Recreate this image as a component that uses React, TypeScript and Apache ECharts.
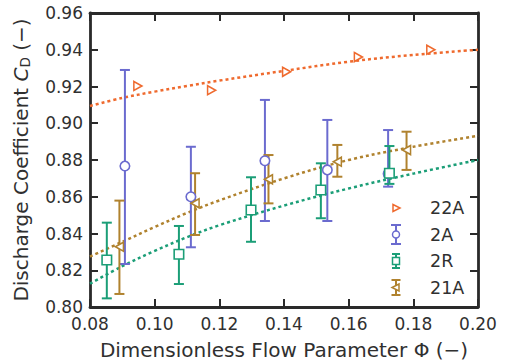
import React, { useEffect, useRef } from "react";
import * as echarts from "echarts";

// ---- data ----
const fitPhi = [0.08, 0.09, 0.10, 0.11, 0.12, 0.14, 0.16, 0.18, 0.20];
const fit22A = [0.9094, 0.9138, 0.9172, 0.9203, 0.9232, 0.9285, 0.9335, 0.9372, 0.9400];
const fit21A = [0.8274, 0.8355, 0.8435, 0.8512, 0.8580, 0.8700, 0.8800, 0.8872, 0.8932];
const fit2R = [0.8127, 0.8222, 0.8305, 0.8380, 0.8445, 0.8552, 0.8645, 0.8726, 0.8800];

const phi22A = [0.0948, 0.1176, 0.1408, 0.1630, 0.1854];
const cd22A = [0.9203, 0.9180, 0.9280, 0.9360, 0.9400];

const phi2A = [0.0908, 0.1112, 0.1341, 0.1534, 0.1722];
const cd2A = [0.8767, 0.8600, 0.8796, 0.8746, 0.8725];
const lo2A = [0.8234, 0.8325, 0.8468, 0.8468, 0.8655];
const hi2A = [0.9290, 0.8872, 0.9127, 0.9018, 0.8963];

const phi2R = [0.0852, 0.1075, 0.1298, 0.1514, 0.1726];
const cd2R = [0.8256, 0.8287, 0.8528, 0.8637, 0.8728];
const lo2R = [0.8047, 0.8125, 0.8355, 0.8483, 0.8670];
const hi2R = [0.8459, 0.8441, 0.8706, 0.8782, 0.8876];

const phi21A = [0.0891, 0.1125, 0.1352, 0.1565, 0.1779];
const cd21A = [0.8328, 0.8564, 0.8695, 0.8791, 0.8854];
const lo21A = [0.8071, 0.8392, 0.8564, 0.8709, 0.8746];
const hi21A = [0.8579, 0.8728, 0.8827, 0.8882, 0.8954];

const legendNames = ["22A", "2A", "2R", "21A"];

// ---- styling ----
const C_ORANGE = "#ef6a2e";
const C_BLUE = "#6b6bcf";
const C_GREEN = "#1b9e77";
const C_BROWN = "#b0822e";
const AX = "#2a2a2a";
const TXT = "#303030";
const FONT = "DejaVu Sans";

const TRI_RIGHT = "path://M0,0 L10,5 L0,10 Z";
const TRI_LEFT = "path://M10,0 L0,5 L10,10 Z";

function iconSvg(kind: string, color: string, barH: number, capW: number) {
  const W = 14, H = 22, cx = 7, cy = 11;
  let bar = "";
  if (barH > 0) {
    const y1 = cy - barH / 2, y2 = cy + barH / 2;
    bar =
      `<line x1="${cx}" y1="${y1}" x2="${cx}" y2="${y2}" stroke="${color}" stroke-width="2"/>` +
      `<line x1="${cx - capW / 2}" y1="${y1}" x2="${cx + capW / 2}" y2="${y1}" stroke="${color}" stroke-width="2"/>` +
      `<line x1="${cx - capW / 2}" y1="${y2}" x2="${cx + capW / 2}" y2="${y2}" stroke="${color}" stroke-width="2"/>`;
  }
  let mk = "";
  const st = `fill="white" stroke="${color}" stroke-width="1.5"`;
  if (kind === "circle") mk = `<circle cx="${cx}" cy="${cy}" r="3.5" ${st}/>`;
  if (kind === "square") mk = `<rect x="${cx - 3.5}" y="${cy - 3.5}" width="7" height="7" ${st}/>`;
  if (kind === "right") mk = `<polygon points="${cx - 3},${cy - 3.5} ${cx + 4},${cy} ${cx - 3},${cy + 3.5}" ${st}/>`;
  if (kind === "left") mk = `<polygon points="${cx + 3},${cy - 3.5} ${cx - 4},${cy} ${cx + 3},${cy + 3.5}" ${st}/>`;
  const svg = `<svg xmlns="http://www.w3.org/2000/svg" width="${W}" height="${H}" viewBox="0 0 ${W} ${H}">${bar}${mk}</svg>`;
  return "image://data:image/svg+xml;charset=utf-8," + encodeURIComponent(svg);
}

function zip2(a: number[], b: number[]) {
  return a.map((v, i) => [v, b[i]]);
}
function zip3(a: number[], b: number[], c: number[]) {
  return a.map((v, i) => [v, b[i], c[i]]);
}

function errSeries(name: string, color: string, data: number[][]) {
  return {
    type: "custom",
    name,
    data,
    encode: { x: 0, y: [1, 2] },
    z: 3,
    renderItem: (_p: any, api: any) => {
      const x = api.value(0);
      const a = api.coord([x, api.value(1)]);
      const b = api.coord([x, api.value(2)]);
      const w = 5;
      const style = { stroke: color, lineWidth: 2 };
      return {
        type: "group",
        children: [
          { type: "line", shape: { x1: a[0], y1: a[1], x2: b[0], y2: b[1] }, style },
          { type: "line", shape: { x1: a[0] - w, y1: a[1], x2: a[0] + w, y2: a[1] }, style },
          { type: "line", shape: { x1: b[0] - w, y1: b[1], x2: b[0] + w, y2: b[1] }, style },
        ],
      };
    },
  };
}

function markerSeries(name: string, color: string, symbol: string, size: number | number[], data: number[][]) {
  return {
    type: "scatter",
    name,
    data,
    symbol,
    symbolSize: size,
    z: 4,
    itemStyle: { color: "#ffffff", borderColor: color, borderWidth: 1.6, opacity: 1 },
  };
}

function fitSeries(name: string, color: string, ys: number[]) {
  return {
    type: "line",
    name,
    data: zip2(fitPhi, ys),
    smooth: 0.35,
    showSymbol: false,
    symbol: "none",
    z: 2,
    lineStyle: { color, width: 2.5, type: [3, 3], cap: "butt" },
  };
}

const axisCommon = {
  axisLine: { show: true, lineStyle: { color: AX, width: 2.8 } },
  axisTick: { show: true, inside: true, length: 8, lineStyle: { color: AX, width: 2 } },
  splitLine: { show: false },
};

export default function App() {
  const ref = useRef<HTMLDivElement>(null);
  useEffect(() => {
    if (!ref.current) return;
    const chart = echarts.init(ref.current, undefined, { renderer: "svg" });
    const option: any = {
      animation: false,
      backgroundColor: "#ffffff",
      textStyle: { fontFamily: FONT },
      grid: { left: 90, right: 29, top: 13, bottom: 55, containLabel: false, outerBoundsMode: "none" },
      xAxis: [
        {
          type: "value",
          position: "bottom",
          min: 0.08,
          max: 0.2,
          interval: 0.02,
          ...axisCommon,
          axisLabel: {
            show: true,
            margin: 8,
            fontSize: 17,
            fontFamily: FONT,
            color: TXT,
            formatter: (v: number) => v.toFixed(2),
          },
          name: "Dimensionless Flow Parameter Φ (−)",
          nameLocation: "middle",
          nameGap: 32,
          nameTextStyle: { fontSize: 20, fontFamily: FONT, color: TXT, lineHeight: 21 },
        },
        {
          type: "value",
          position: "top",
          min: 0.08,
          max: 0.2,
          interval: 0.02,
          ...axisCommon,
          axisLabel: { show: false },
        },
      ],
      yAxis: [
        {
          type: "value",
          position: "left",
          min: 0.8,
          max: 0.96,
          interval: 0.02,
          ...axisCommon,
          axisLabel: {
            show: true,
            margin: 7,
            fontSize: 17,
            fontFamily: FONT,
            color: TXT,
            formatter: (v: number) => v.toFixed(2),
          },
          name: "Discharge Coefficient {i|C}{s|D} (−)",
          nameLocation: "middle",
          nameGap: 52,
          nameTextStyle: {
            fontSize: 20,
            fontFamily: FONT,
            color: TXT,
            lineHeight: 26,
            rich: {
              i: { fontStyle: "italic", fontSize: 20, fontFamily: FONT, color: TXT, lineHeight: 26 },
              s: { fontSize: 13.5, fontFamily: FONT, color: TXT, lineHeight: 16, padding: [8, 0, 0, 0] },
            },
          },
        },
        {
          type: "value",
          position: "right",
          min: 0.8,
          max: 0.96,
          interval: 0.02,
          ...axisCommon,
          axisLabel: { show: false },
        },
      ],
      legend: {
        show: true,
        orient: "vertical",
        left: 384,
        top: 192,
        itemWidth: 14,
        itemHeight: 22,
        itemGap: 4.5,
        selectedMode: false,
        textStyle: { fontSize: 17.5, fontFamily: FONT, color: TXT, padding: [0, 0, 0, 22] },
        data: [
          { name: legendNames[0], icon: iconSvg("right", C_ORANGE, 0, 0) },
          { name: legendNames[1], icon: iconSvg("circle", C_BLUE, 19, 10) },
          { name: legendNames[2], icon: iconSvg("square", C_GREEN, 14, 8) },
          { name: legendNames[3], icon: iconSvg("left", C_BROWN, 15, 9) },
        ],
      },
      series: [
        fitSeries("fit 22A", C_ORANGE, fit22A),
        fitSeries("fit 21A", C_BROWN, fit21A),
        fitSeries("fit 2R", C_GREEN, fit2R),
        markerSeries("22A", C_ORANGE, TRI_RIGHT, [8, 9], zip2(phi22A, cd22A)),
        errSeries("2A err", C_BLUE, zip3(phi2A, lo2A, hi2A)),
        markerSeries("2A", C_BLUE, "circle", 9.5, zip2(phi2A, cd2A)),
        errSeries("2R err", C_GREEN, zip3(phi2R, lo2R, hi2R)),
        markerSeries("2R", C_GREEN, "rect", 9.5, zip2(phi2R, cd2R)),
        errSeries("21A err", C_BROWN, zip3(phi21A, lo21A, hi21A)),
        markerSeries("21A", C_BROWN, TRI_LEFT, [8, 9], zip2(phi21A, cd21A)),
      ],
    };
    chart.setOption(option);
    return () => chart.dispose();
  }, []);
  return (
    <div
      ref={ref}
      style={{ position: "fixed", left: 0, top: 0, width: 507, height: 362, background: "#fff" }}
    />
  );
}
